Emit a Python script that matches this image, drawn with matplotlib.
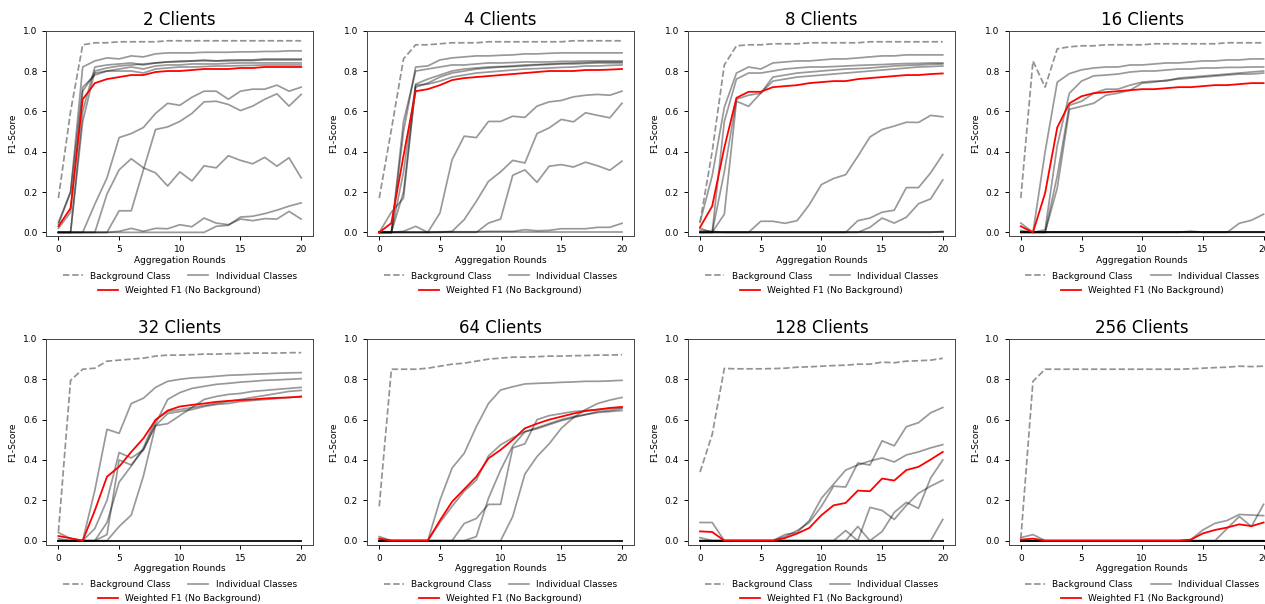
import matplotlib
matplotlib.use("Agg")
import matplotlib.pyplot as plt
from matplotlib.lines import Line2D

rounds = list(range(21))
clients = [2, 4, 8, 16, 32, 64, 128, 256]

# ---- 2 clients
bg_2 = [0.17, 0.60, 0.93, 0.94, 0.94, 0.945, 0.945, 0.945, 0.945, 0.95, 0.95, 0.95, 0.95, 0.95, 0.95, 0.95, 0.95, 0.95, 0.95, 0.95, 0.95]
f1_2 = [0.03, 0.12, 0.66, 0.74, 0.76, 0.77, 0.78, 0.78, 0.795, 0.80, 0.80, 0.805, 0.81, 0.81, 0.81, 0.815, 0.815, 0.82, 0.82, 0.82, 0.82]
cls_2 = [
    [0.04, 0.20, 0.82, 0.85, 0.865, 0.86, 0.875, 0.87, 0.885, 0.89, 0.89, 0.89, 0.893, 0.893, 0.893, 0.895, 0.895, 0.897, 0.897, 0.90, 0.90],
    [0, 0, 0.60, 0.82, 0.83, 0.835, 0.84, 0.83, 0.84, 0.845, 0.85, 0.85, 0.855, 0.85, 0.855, 0.855, 0.855, 0.86, 0.86, 0.86, 0.86],
    [0, 0, 0.55, 0.80, 0.815, 0.825, 0.83, 0.835, 0.84, 0.845, 0.845, 0.85, 0.85, 0.85, 0.85, 0.852, 0.852, 0.855, 0.855, 0.855, 0.855],
    [0.05, 0.20, 0.72, 0.78, 0.80, 0.81, 0.82, 0.81, 0.825, 0.83, 0.83, 0.835, 0.835, 0.835, 0.838, 0.84, 0.84, 0.84, 0.84, 0.84, 0.84],
    [0.02, 0.10, 0.70, 0.79, 0.80, 0.80, 0.80, 0.79, 0.81, 0.815, 0.82, 0.82, 0.822, 0.825, 0.825, 0.827, 0.828, 0.83, 0.83, 0.83, 0.83],
    [0, 0, 0, 0.14, 0.27, 0.47, 0.49, 0.52, 0.59, 0.64, 0.63, 0.67, 0.70, 0.70, 0.66, 0.70, 0.71, 0.71, 0.73, 0.70, 0.72],
    [0, 0, 0, 0, 0.19, 0.31, 0.365, 0.32, 0.295, 0.23, 0.30, 0.255, 0.33, 0.32, 0.38, 0.357, 0.34, 0.372, 0.328, 0.37, 0.27],
    [0, 0, 0, 0, 0, 0.107, 0.107, 0.31, 0.51, 0.523, 0.55, 0.59, 0.647, 0.65, 0.634, 0.604, 0.626, 0.66, 0.687, 0.626, 0.684],
    [0, 0, 0, 0, 0, 0, 0, 0, 0, 0, 0, 0, 0, 0.03, 0.035, 0.076, 0.08, 0.093, 0.11, 0.13, 0.146],
    [0, 0, 0, 0, 0, 0.005, 0.02, 0.005, 0.02, 0.018, 0.038, 0.028, 0.071, 0.046, 0.038, 0.066, 0.058, 0.068, 0.066, 0.104, 0.066],
]

# ---- 4 clients
bg_4 = [0.17, 0.51, 0.86, 0.93, 0.93, 0.935, 0.94, 0.94, 0.94, 0.945, 0.945, 0.945, 0.945, 0.945, 0.945, 0.945, 0.95, 0.95, 0.95, 0.95, 0.95]
f1_4 = [0.0, 0.046, 0.38, 0.70, 0.71, 0.73, 0.755, 0.765, 0.77, 0.775, 0.78, 0.785, 0.79, 0.795, 0.80, 0.80, 0.80, 0.805, 0.805, 0.807, 0.81]
cls_4 = [
    [0, 0, 0.50, 0.82, 0.825, 0.855, 0.865, 0.87, 0.875, 0.875, 0.878, 0.88, 0.885, 0.885, 0.888, 0.89, 0.89, 0.89, 0.89, 0.89, 0.89],
    [0, 0, 0.55, 0.80, 0.81, 0.82, 0.83, 0.83, 0.835, 0.84, 0.84, 0.842, 0.845, 0.845, 0.845, 0.848, 0.848, 0.85, 0.85, 0.85, 0.85],
    [0, 0, 0.30, 0.735, 0.76, 0.78, 0.80, 0.81, 0.815, 0.82, 0.822, 0.825, 0.83, 0.832, 0.835, 0.838, 0.84, 0.842, 0.845, 0.845, 0.845],
    [0, 0, 0.20, 0.72, 0.74, 0.77, 0.79, 0.80, 0.81, 0.815, 0.82, 0.822, 0.825, 0.83, 0.832, 0.835, 0.835, 0.838, 0.84, 0.84, 0.84],
    [0, 0.10, 0.17, 0.73, 0.735, 0.75, 0.77, 0.78, 0.79, 0.795, 0.80, 0.805, 0.81, 0.812, 0.815, 0.818, 0.82, 0.825, 0.825, 0.828, 0.83],
    [0, 0, 0, 0, 0, 0.096, 0.36, 0.477, 0.47, 0.55, 0.55, 0.576, 0.57, 0.626, 0.647, 0.654, 0.672, 0.68, 0.684, 0.68, 0.70],
    [0, 0, 0, 0, 0, 0, 0.005, 0.063, 0.154, 0.253, 0.30, 0.357, 0.344, 0.49, 0.518, 0.56, 0.548, 0.593, 0.58, 0.568, 0.64],
    [0, 0, 0, 0, 0, 0, 0, 0, 0, 0.046, 0.066, 0.283, 0.31, 0.248, 0.328, 0.336, 0.324, 0.348, 0.33, 0.308, 0.353],
    [0, 0, 0.005, 0.03, 0, 0.003, 0.003, 0.003, 0.003, 0.005, 0.005, 0.005, 0.013, 0.008, 0.01, 0.018, 0.018, 0.018, 0.025, 0.025, 0.045],
    [0, 0, 0, 0, 0, 0, 0, 0, 0, 0, 0, 0, 0, 0, 0, 0, 0, 0, 0, 0, 0],
]

# ---- 8 clients
bg_8 = [0.05, 0.40, 0.83, 0.925, 0.93, 0.93, 0.935, 0.935, 0.935, 0.94, 0.94, 0.94, 0.94, 0.94, 0.945, 0.945, 0.945, 0.945, 0.945, 0.945, 0.945]
f1_8 = [0.025, 0.13, 0.42, 0.667, 0.697, 0.697, 0.72, 0.725, 0.73, 0.74, 0.745, 0.75, 0.75, 0.76, 0.765, 0.77, 0.775, 0.78, 0.78, 0.785, 0.788]
cls_8 = [
    [0.05, 0.28, 0.62, 0.79, 0.82, 0.81, 0.84, 0.845, 0.85, 0.85, 0.855, 0.86, 0.86, 0.865, 0.87, 0.875, 0.875, 0.88, 0.88, 0.88, 0.88],
    [0.02, 0, 0.55, 0.76, 0.79, 0.79, 0.80, 0.81, 0.815, 0.82, 0.82, 0.822, 0.825, 0.828, 0.83, 0.832, 0.835, 0.837, 0.838, 0.84, 0.84],
    [0, 0, 0.30, 0.66, 0.68, 0.69, 0.77, 0.78, 0.79, 0.795, 0.80, 0.805, 0.81, 0.812, 0.815, 0.82, 0.825, 0.828, 0.83, 0.833, 0.835],
    [0, 0, 0.09, 0.65, 0.625, 0.69, 0.75, 0.76, 0.77, 0.775, 0.78, 0.785, 0.79, 0.795, 0.80, 0.805, 0.81, 0.815, 0.82, 0.822, 0.825],
    [0, 0, 0, 0, 0, 0.055, 0.055, 0.045, 0.058, 0.137, 0.237, 0.267, 0.286, 0.377, 0.473, 0.51, 0.527, 0.546, 0.545, 0.58, 0.573],
    [0, 0, 0, 0, 0, 0, 0, 0, 0, 0, 0, 0, 0, 0.058, 0.071, 0.10, 0.11, 0.222, 0.222, 0.295, 0.386],
    [0, 0, 0, 0, 0, 0, 0, 0, 0, 0, 0, 0, 0, 0, 0.025, 0.071, 0.046, 0.075, 0.142, 0.166, 0.26],
    [0.01, 0.005, 0, 0, 0, 0, 0, 0, 0, 0, 0, 0, 0, 0, 0, 0, 0, 0, 0, 0, 0.005],
    [0, 0, 0, 0, 0, 0, 0, 0, 0, 0, 0, 0, 0, 0, 0, 0, 0, 0, 0, 0, 0],
    [0, 0, 0, 0, 0, 0, 0, 0, 0, 0, 0, 0, 0, 0, 0, 0, 0, 0, 0, 0, 0],
]

# ---- 16 clients
bg_16 = [0.17, 0.85, 0.72, 0.91, 0.92, 0.925, 0.925, 0.93, 0.93, 0.93, 0.93, 0.935, 0.935, 0.935, 0.935, 0.935, 0.935, 0.94, 0.94, 0.94, 0.94]
f1_16 = [0.03, 0.0, 0.195, 0.52, 0.64, 0.675, 0.69, 0.695, 0.70, 0.705, 0.71, 0.71, 0.715, 0.72, 0.72, 0.725, 0.73, 0.73, 0.735, 0.74, 0.74]
cls_16 = [
    [0.046, 0, 0.40, 0.745, 0.787, 0.806, 0.815, 0.82, 0.82, 0.83, 0.83, 0.835, 0.84, 0.84, 0.845, 0.85, 0.85, 0.855, 0.855, 0.86, 0.86],
    [0.01, 0, 0.013, 0.43, 0.69, 0.75, 0.776, 0.78, 0.785, 0.795, 0.80, 0.80, 0.805, 0.81, 0.81, 0.815, 0.815, 0.818, 0.818, 0.82, 0.82],
    [0, 0, 0, 0.28, 0.63, 0.65, 0.69, 0.71, 0.71, 0.73, 0.745, 0.75, 0.75, 0.765, 0.77, 0.775, 0.78, 0.785, 0.79, 0.795, 0.80],
    [0, 0, 0, 0.22, 0.61, 0.625, 0.64, 0.68, 0.69, 0.705, 0.74, 0.745, 0.755, 0.76, 0.765, 0.77, 0.775, 0.78, 0.785, 0.785, 0.79],
    [0, 0, 0, 0, 0, 0, 0, 0, 0, 0, 0, 0, 0, 0, 0, 0, 0, 0, 0.045, 0.06, 0.09],
    [0, 0, 0, 0, 0, 0, 0, 0, 0, 0, 0, 0, 0, 0, 0.006, 0, 0, 0, 0, 0, 0],
    [0, 0, 0, 0, 0, 0, 0, 0, 0, 0, 0, 0, 0, 0, 0, 0, 0, 0, 0, 0, 0],
    [0, 0, 0, 0, 0, 0, 0, 0, 0, 0, 0, 0, 0, 0, 0, 0, 0, 0, 0, 0, 0],
    [0, 0, 0, 0, 0, 0, 0, 0, 0, 0, 0, 0, 0, 0, 0, 0, 0, 0, 0, 0, 0],
    [0, 0, 0, 0, 0, 0, 0, 0, 0, 0, 0, 0, 0, 0, 0, 0, 0, 0, 0, 0, 0],
]

# ---- 32 clients
bg_32 = [0.045, 0.795, 0.85, 0.855, 0.89, 0.895, 0.90, 0.905, 0.915, 0.92, 0.92, 0.922, 0.925, 0.925, 0.927, 0.928, 0.93, 0.93, 0.93, 0.932, 0.932]
f1_32 = [0.023, 0.012, 0.0, 0.15, 0.317, 0.367, 0.44, 0.507, 0.598, 0.645, 0.665, 0.673, 0.68, 0.688, 0.693, 0.697, 0.70, 0.705, 0.708, 0.71, 0.714]
cls_32 = [
    [0.04, 0.01, 0, 0.25, 0.552, 0.532, 0.68, 0.706, 0.76, 0.79, 0.80, 0.807, 0.81, 0.815, 0.82, 0.822, 0.825, 0.827, 0.83, 0.832, 0.833],
    [0.01, 0, 0, 0.06, 0.20, 0.437, 0.41, 0.45, 0.58, 0.70, 0.734, 0.755, 0.765, 0.775, 0.78, 0.786, 0.79, 0.795, 0.797, 0.80, 0.803],
    [0, 0, 0, 0, 0.03, 0.40, 0.375, 0.45, 0.57, 0.58, 0.62, 0.66, 0.70, 0.715, 0.725, 0.73, 0.74, 0.745, 0.75, 0.755, 0.76],
    [0, 0, 0, 0, 0.09, 0.29, 0.37, 0.46, 0.60, 0.64, 0.65, 0.66, 0.67, 0.68, 0.69, 0.70, 0.71, 0.72, 0.73, 0.74, 0.745],
    [0, 0, 0, 0, 0, 0.07, 0.127, 0.32, 0.57, 0.63, 0.64, 0.65, 0.665, 0.675, 0.68, 0.69, 0.695, 0.70, 0.705, 0.71, 0.715],
    [0, 0, 0, 0, 0, 0, 0, 0, 0, 0, 0, 0, 0, 0, 0, 0, 0, 0, 0, 0, 0],
    [0, 0, 0, 0, 0, 0, 0, 0, 0, 0, 0, 0, 0, 0, 0, 0, 0, 0, 0, 0, 0],
    [0, 0, 0, 0, 0, 0, 0, 0, 0, 0, 0, 0, 0, 0, 0, 0, 0, 0, 0, 0, 0],
    [0, 0, 0, 0, 0, 0, 0, 0, 0, 0, 0, 0, 0, 0, 0, 0, 0, 0, 0, 0, 0],
    [0, 0, 0, 0, 0, 0, 0, 0, 0, 0, 0, 0, 0, 0, 0, 0, 0, 0, 0, 0, 0],
]

# ---- 64 clients
bg_64 = [0.17, 0.85, 0.85, 0.85, 0.855, 0.865, 0.875, 0.88, 0.89, 0.90, 0.905, 0.91, 0.91, 0.912, 0.915, 0.915, 0.917, 0.918, 0.92, 0.92, 0.922]
f1_64 = [0.01, 0.0, 0.0, 0.0, 0.0, 0.10, 0.193, 0.255, 0.317, 0.408, 0.45, 0.50, 0.557, 0.58, 0.60, 0.615, 0.63, 0.643, 0.65, 0.658, 0.663]
cls_64 = [
    [0.02, 0, 0, 0, 0, 0.20, 0.36, 0.433, 0.565, 0.68, 0.747, 0.763, 0.777, 0.78, 0.782, 0.785, 0.787, 0.79, 0.79, 0.792, 0.795],
    [0.01, 0, 0, 0, 0, 0.09, 0.17, 0.245, 0.30, 0.42, 0.475, 0.51, 0.54, 0.555, 0.575, 0.595, 0.61, 0.625, 0.64, 0.645, 0.655],
    [0, 0, 0, 0, 0, 0, 0, 0.085, 0.11, 0.18, 0.18, 0.46, 0.48, 0.60, 0.62, 0.63, 0.64, 0.645, 0.65, 0.655, 0.66],
    [0, 0, 0, 0, 0, 0, 0, 0, 0.02, 0.21, 0.35, 0.47, 0.54, 0.56, 0.58, 0.60, 0.615, 0.625, 0.635, 0.64, 0.645],
    [0, 0, 0, 0, 0, 0, 0, 0, 0, 0, 0, 0.12, 0.33, 0.417, 0.48, 0.557, 0.61, 0.65, 0.68, 0.697, 0.71],
    [0, 0, 0, 0, 0, 0, 0, 0, 0, 0, 0, 0, 0, 0, 0, 0, 0, 0, 0, 0, 0],
    [0, 0, 0, 0, 0, 0, 0, 0, 0, 0, 0, 0, 0, 0, 0, 0, 0, 0, 0, 0, 0],
    [0, 0, 0, 0, 0, 0, 0, 0, 0, 0, 0, 0, 0, 0, 0, 0, 0, 0, 0, 0, 0],
    [0, 0, 0, 0, 0, 0, 0, 0, 0, 0, 0, 0, 0, 0, 0, 0, 0, 0, 0, 0, 0],
    [0, 0, 0, 0, 0, 0, 0, 0, 0, 0, 0, 0, 0, 0, 0, 0, 0, 0, 0, 0, 0],
]

# ---- 128 clients
bg_128 = [0.34, 0.526, 0.854, 0.852, 0.852, 0.852, 0.853, 0.855, 0.86, 0.862, 0.865, 0.868, 0.87, 0.875, 0.875, 0.885, 0.882, 0.89, 0.892, 0.895, 0.904]
f1_128 = [0.046, 0.043, 0.0, 0.0, 0.0, 0.0, 0.0, 0.013, 0.035, 0.063, 0.126, 0.175, 0.187, 0.248, 0.245, 0.308, 0.298, 0.35, 0.366, 0.402, 0.44]
cls_128 = [
    [0.09, 0.09, 0, 0, 0, 0, 0, 0.02, 0.05, 0.09, 0.17, 0.27, 0.266, 0.385, 0.375, 0.495, 0.47, 0.565, 0.585, 0.634, 0.66],
    [0.015, 0, 0, 0, 0, 0, 0, 0.03, 0.04, 0.10, 0.21, 0.28, 0.35, 0.375, 0.395, 0.41, 0.39, 0.425, 0.44, 0.46, 0.476],
    [0, 0, 0, 0, 0, 0, 0, 0, 0, 0, 0, 0, 0.05, 0, 0.165, 0.15, 0.105, 0.175, 0.235, 0.27, 0.30],
    [0, 0, 0, 0, 0, 0, 0, 0, 0, 0, 0, 0, 0, 0.07, 0, 0.045, 0.14, 0.19, 0.16, 0.31, 0.40],
    [0, 0, 0, 0, 0, 0, 0, 0, 0, 0, 0, 0, 0, 0, 0, 0, 0, 0, 0, 0, 0.105],
    [0, 0, 0, 0, 0, 0, 0, 0, 0, 0, 0, 0, 0, 0, 0, 0, 0, 0, 0, 0, 0],
    [0, 0, 0, 0, 0, 0, 0, 0, 0, 0, 0, 0, 0, 0, 0, 0, 0, 0, 0, 0, 0],
    [0, 0, 0, 0, 0, 0, 0, 0, 0, 0, 0, 0, 0, 0, 0, 0, 0, 0, 0, 0, 0],
    [0, 0, 0, 0, 0, 0, 0, 0, 0, 0, 0, 0, 0, 0, 0, 0, 0, 0, 0, 0, 0],
    [0, 0, 0, 0, 0, 0, 0, 0, 0, 0, 0, 0, 0, 0, 0, 0, 0, 0, 0, 0, 0],
]

# ---- 256 clients
bg_256 = [0.01, 0.79, 0.85, 0.85, 0.85, 0.85, 0.85, 0.85, 0.85, 0.85, 0.85, 0.85, 0.85, 0.85, 0.852, 0.855, 0.858, 0.86, 0.865, 0.863, 0.865]
f1_256 = [0.005, 0.01, 0.0, 0.0, 0.0, 0.0, 0.0, 0.0, 0.0, 0.0, 0.0, 0.0, 0.0, 0.0, 0.005, 0.036, 0.053, 0.065, 0.081, 0.072, 0.09]
cls_256 = [
    [0, 0, 0, 0, 0, 0, 0, 0, 0, 0, 0, 0, 0, 0, 0.005, 0.053, 0.086, 0.10, 0.13, 0.127, 0.124],
    [0, 0, 0, 0, 0, 0, 0, 0, 0, 0, 0, 0, 0, 0, 0, 0, 0, 0.06, 0.12, 0.07, 0.18],
    [0.015, 0.03, 0, 0, 0, 0, 0, 0, 0, 0, 0, 0, 0, 0, 0, 0, 0, 0, 0, 0, 0],
    [0, 0, 0, 0, 0, 0, 0, 0, 0, 0, 0, 0, 0, 0, 0, 0, 0, 0, 0, 0, 0],
    [0, 0, 0, 0, 0, 0, 0, 0, 0, 0, 0, 0, 0, 0, 0, 0, 0, 0, 0, 0, 0],
    [0, 0, 0, 0, 0, 0, 0, 0, 0, 0, 0, 0, 0, 0, 0, 0, 0, 0, 0, 0, 0],
    [0, 0, 0, 0, 0, 0, 0, 0, 0, 0, 0, 0, 0, 0, 0, 0, 0, 0, 0, 0, 0],
    [0, 0, 0, 0, 0, 0, 0, 0, 0, 0, 0, 0, 0, 0, 0, 0, 0, 0, 0, 0, 0],
    [0, 0, 0, 0, 0, 0, 0, 0, 0, 0, 0, 0, 0, 0, 0, 0, 0, 0, 0, 0, 0],
    [0, 0, 0, 0, 0, 0, 0, 0, 0, 0, 0, 0, 0, 0, 0, 0, 0, 0, 0, 0, 0],
]

backgrounds = [bg_2, bg_4, bg_8, bg_16, bg_32, bg_64, bg_128, bg_256]
weighted = [f1_2, f1_4, f1_8, f1_16, f1_32, f1_64, f1_128, f1_256]
classes = [cls_2, cls_4, cls_8, cls_16, cls_32, cls_64, cls_128, cls_256]

W, H = 1265, 604
fig = plt.figure(figsize=(W / 100, H / 100), dpi=100)

small = 6.5
cls_style = dict(color="black", alpha=0.4, linewidth=1.25)
bg_style = dict(color="gray", alpha=0.85, linestyle="--", linewidth=1.25)
f1_style = dict(color="red", linewidth=1.3)

for i, n in enumerate(clients):
    r, c = divmod(i, 4)
    left = (46.3 + 320.8 * c) / W
    bottom = 0.6086 if r == 0 else 0.0982
    # the last column runs past the right edge, as in the cropped original
    ax = fig.add_axes([left, bottom, 267 / W, 0.3406])

    for y in classes[i]:
        ax.plot(rounds, y, **cls_style)
    ax.plot(rounds, backgrounds[i], **bg_style)
    ax.plot(rounds, weighted[i], **f1_style)

    ax.set_ylim(-0.02, 1.0)
    ax.set_xticks([0, 5, 10, 15, 20])
    ax.set_yticks([0, 0.2, 0.4, 0.6, 0.8, 1.0])
    ax.tick_params(labelsize=small, length=3, width=0.7)
    for s in ax.spines.values():
        s.set_linewidth(0.7)
        s.set_color("#444444")
    ax.set_title(f"{n} Clients", fontsize=12, pad=4)
    ax.set_xlabel("Aggregation Rounds", fontsize=small, labelpad=1)
    ax.set_ylabel("F1-Score", fontsize=small)

    h_bg = Line2D([], [], **bg_style)
    h_cls = Line2D([], [], **cls_style)
    h_f1 = Line2D([], [], **f1_style)
    leg1 = ax.legend([h_bg, h_cls], ["Background Class", "Individual Classes"],
                     loc="center", bbox_to_anchor=(0.5, -0.1925), ncol=2,
                     frameon=False, fontsize=small, columnspacing=2.0,
                     handlelength=2.2, borderaxespad=0, borderpad=0)
    ax.add_artist(leg1)
    ax.legend([h_f1], ["Weighted F1 (No Background)"],
              loc="center", bbox_to_anchor=(0.5, -0.262),
              frameon=False, fontsize=small, handlelength=2.2,
              borderaxespad=0, borderpad=0)

fig.savefig("out.png", dpi=100)
